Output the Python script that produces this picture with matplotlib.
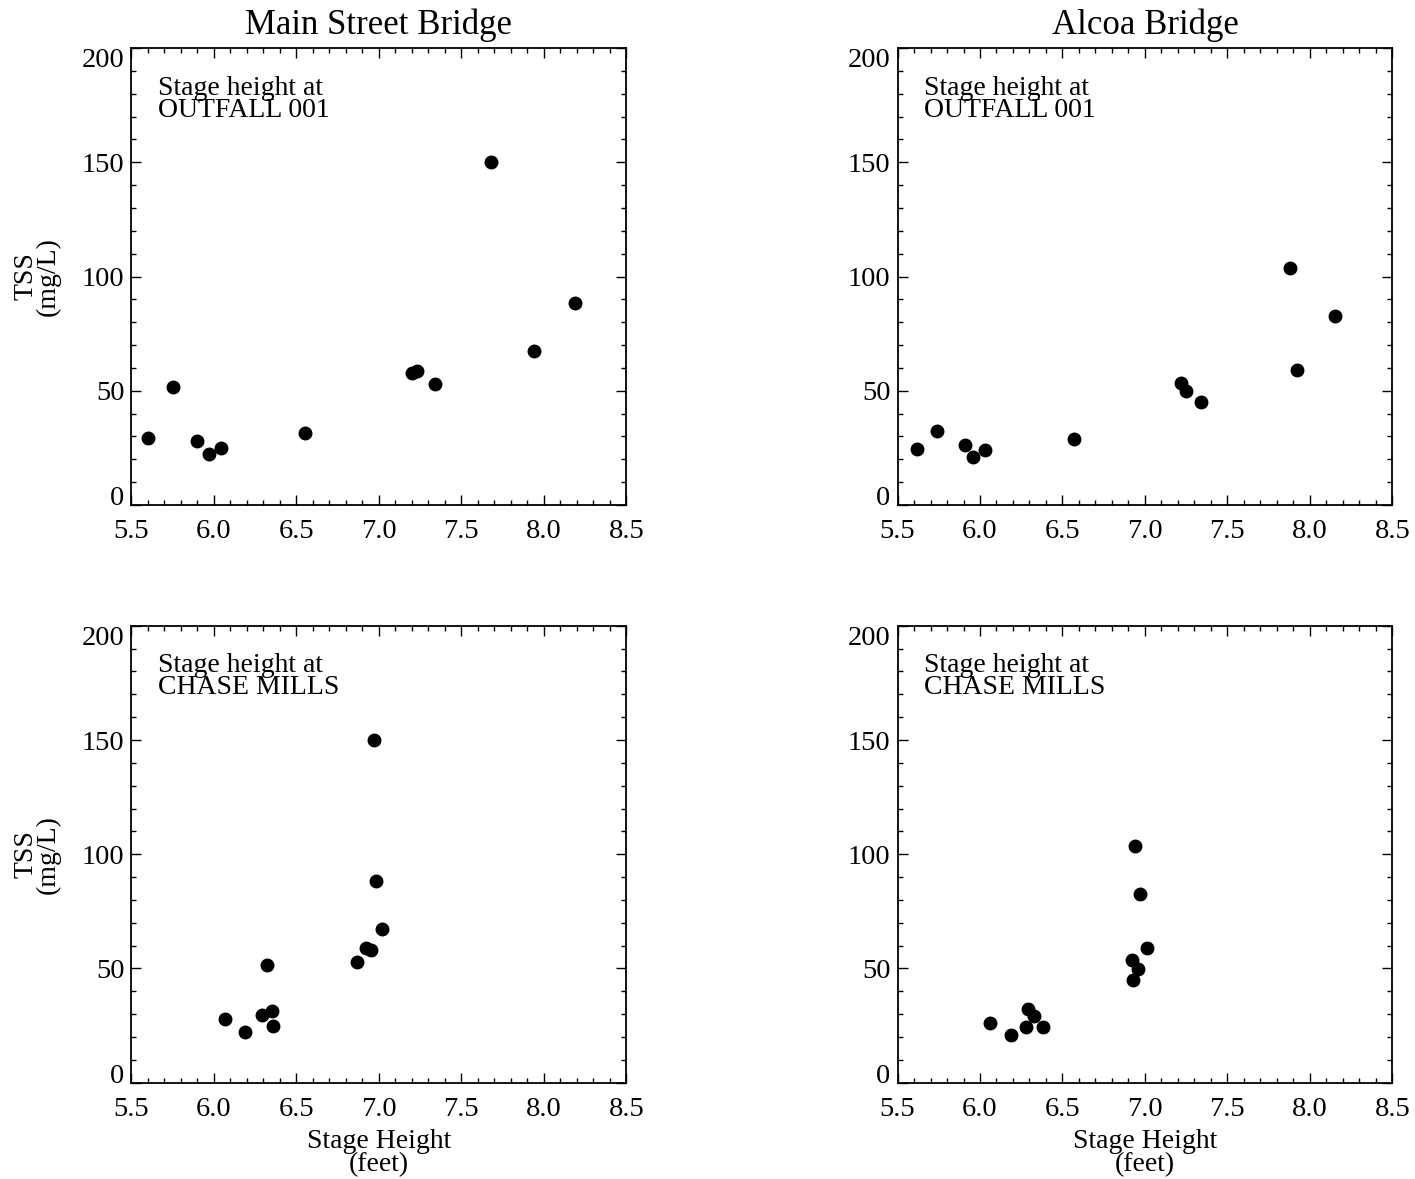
import numpy as np
import matplotlib
matplotlib.use('Agg')
from matplotlib import pyplot as plt
from matplotlib.ticker import MultipleLocator

# stage height (feet) vs TSS (mg/L)
main_outfall_x = [5.60, 5.75, 5.90, 5.97, 6.04, 6.55, 7.20, 7.23, 7.34, 7.68, 7.94, 8.19]
main_outfall_y = [29.5, 51.5, 27.8, 22.3, 25.0, 31.5, 57.9, 58.8, 53.0, 150.2, 67.4, 88.2]

alcoa_outfall_x = [5.62, 5.74, 5.91, 5.96, 6.03, 6.57, 7.22, 7.25, 7.34, 7.88, 7.92, 8.15]
alcoa_outfall_y = [24.5, 32.2, 26.3, 21.0, 24.2, 29.0, 53.5, 49.8, 45.0, 103.8, 59.0, 82.7]

main_chase_x = [6.07, 6.19, 6.29, 6.32, 6.35, 6.36, 6.87, 6.92, 6.95, 6.97, 6.98, 7.02]
main_chase_y = [27.8, 22.3, 29.5, 51.5, 31.5, 25.0, 53.0, 58.8, 57.9, 150.2, 88.2, 67.4]

alcoa_chase_x = [6.06, 6.19, 6.28, 6.29, 6.33, 6.38, 6.92, 6.93, 6.94, 6.96, 6.97, 7.01]
alcoa_chase_y = [26.3, 21.0, 24.5, 32.2, 29.0, 24.2, 53.5, 45.0, 103.8, 49.8, 82.7, 59.0]

titles = ['Main Street Bridge', 'Alcoa Bridge']
stations = ['OUTFALL 001', 'CHASE MILLS']

plt.rcParams['font.family'] = ['Liberation Serif', 'DejaVu Serif']
plt.rcParams['font.size'] = 20

fig = plt.figure(figsize=(14.15, 11.79), dpi=100)

# axes rectangles in figure fractions
lefts = [0.0929, 0.6343]
bottoms = [0.5717, 0.0817]
w, h = 0.3497, 0.3875

panels = [[(main_outfall_x, main_outfall_y), (alcoa_outfall_x, alcoa_outfall_y)],
          [(main_chase_x, main_chase_y), (alcoa_chase_x, alcoa_chase_y)]]

axes = []
for r in range(2):
    for c in range(2):
        ax = fig.add_axes([lefts[c], bottoms[r], w, h])
        axes.append(ax)
        xs, ys = panels[r][c]
        ax.plot(xs, ys, 'o', color='black', ms=9, mec='black')

        ax.set_xlim(5.5, 8.5)
        ax.set_ylim(0, 200)
        ax.xaxis.set_major_locator(MultipleLocator(0.5))
        ax.xaxis.set_minor_locator(MultipleLocator(0.1))
        ax.yaxis.set_major_locator(MultipleLocator(50))
        ax.yaxis.set_minor_locator(MultipleLocator(10))
        ax.xaxis.set_major_formatter(matplotlib.ticker.FormatStrFormatter('%.1f'))
        ax.tick_params(which='both', direction='in', top=True, right=True,
                       width=1.0, labelsize=20.5)
        ax.tick_params(which='major', length=7.5)
        ax.tick_params(which='minor', length=3.5)
        ax.tick_params(axis='x', which='major', pad=10)
        ax.tick_params(axis='y', which='major', pad=5)
        for s in ax.spines.values():
            s.set_linewidth(1.3)

        ax.text(0.054, 0.94, 'Stage height at\n' + stations[r],
                transform=ax.transAxes, ha='left', va='top',
                fontsize=20, linespacing=0.85)

        if r == 0:
            ax.set_title(titles[c], fontsize=25, pad=10)
        else:
            ax.set_xlabel('Stage Height\n(feet)', fontsize=20, linespacing=0.92,
                          labelpad=5)
        if c == 0:
            ax.set_ylabel('TSS\n(mg/L)', fontsize=20, linespacing=0.85,
                          labelpad=15)

# IDL-style: bottom y label sits above the axis, top label just below it
fig.canvas.draw()
for ax in axes:
    for lab in ax.get_yticklabels():
        if lab.get_text() == '0':
            lab.set_va('baseline')
        elif lab.get_text() == '200':
            lab.set_va('top')

fig.savefig('out.png', dpi=100)
